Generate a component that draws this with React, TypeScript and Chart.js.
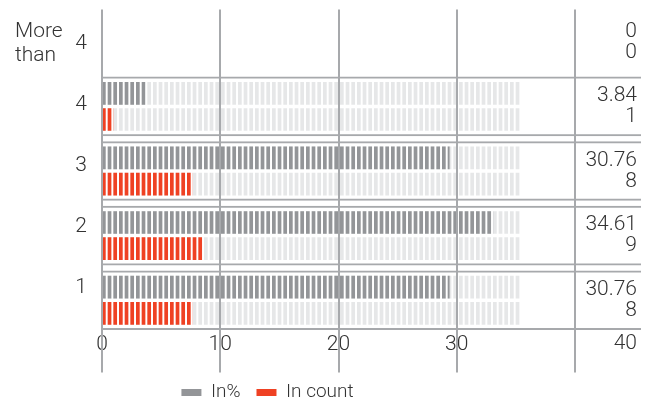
import React, { useEffect, useRef } from 'react';
import { Chart, registerables } from 'chart.js';

Chart.register(...registerables);

// ---- data ----
const CATEGORIES = ['More than 4', '4', '3', '2', '1'];
const PERCENT = [0, 3.84, 30.76, 34.61, 30.76];
const COUNT = [0, 1, 8, 9, 8];
const TRACK = [null, 37, 37, 37, 37];
const SERIES = ['In%', 'In count'];
const X_TICKS = [0, 10, 20, 30, 40];

// ---- styling ----
const GRAY = '#939598';
const RED = '#ef4123';
const TRACK_COLOR = '#e6e7e8';
const LINE = '#a7a9ac';
const TEXT = '#333333';
const FONT = 'Roboto, "Noto Sans", sans-serif';
const BAR_MAX = 47.7; // bar scale extent
const GRID_MAX = 45.58; // grid scale extent
const LABEL_MIN = -0.554; // label scale extent
const LABEL_MAX = 4.736;
const BAND = [null, BAR_MAX, BAR_MAX, BAR_MAX, BAR_MAX];

function makeStripe(color: string): CanvasPattern | string {
  const c = document.createElement('canvas');
  c.width = 17;
  c.height = 4;
  const g = c.getContext('2d');
  if (!g) return color;
  g.fillStyle = '#ffffff';
  g.fillRect(0, 0, 17, 4);
  g.fillStyle = color;
  for (let k = 0; k < 3; k++) g.fillRect((k * 17) / 3, 0, 3.7, 4);
  return g.createPattern(c, 'repeat') || color;
}

export default function App() {
  const ref = useRef<HTMLCanvasElement | null>(null);

  useEffect(() => {
    if (!ref.current) return;
    const patterns = [makeStripe(GRAY), makeStripe(RED), makeStripe(TRACK_COLOR)];

    const overlay = {
      id: 'overlay',
      afterLayout(chart: any) {
        const lg = chart.legend;
        if (lg) {
          lg.left -= 53;
          lg.right -= 53;
        }
      },
      beforeDatasetsDraw(chart: any) {
        const m = new DOMMatrix([1, 0, 0, 1, chart.chartArea.left, 0]);
        patterns.forEach((p: any) => {
          if (p && typeof p.setTransform === 'function') p.setTransform(m);
        });
      },
      afterDraw(chart: any) {
        const ctx = chart.ctx as CanvasRenderingContext2D;
        const ys = chart.scales.y;
        const yl = chart.scales.yl;
        const area = chart.chartArea;
        ctx.save();
        ctx.font = `300 21px ${FONT}`;
        ctx.fillStyle = TEXT;
        ctx.textAlign = 'right';
        ctx.textBaseline = 'middle';
        CATEGORIES.forEach((_, i) => {
          const yc = ys.getPixelForValue(i);
          ctx.fillText(String(PERCENT[i]), area.right - 4, yc - 10.5);
          ctx.fillText(String(COUNT[i]), area.right - 4, yc + 10.5);
        });
        // last x tick label sits at the right edge
        ctx.fillText(String(X_TICKS[X_TICKS.length - 1]), area.right - 4, area.bottom + 11);
        // multi-word category labels: leading words stacked to the left
        ctx.textAlign = 'left';
        CATEGORIES.forEach((c, i) => {
          const words = c.split(' ');
          if (words.length < 2) return;
          const lead = words.slice(0, -1);
          const yc = yl.getPixelForValue(i);
          const lh = 24;
          lead.forEach((w, k) => {
            ctx.fillText(w, yl.left + 15, yc + (k - (lead.length - 1) / 2) * lh);
          });
        });
        ctx.restore();
      },
    };

    const tickFont = { family: FONT, size: 21, weight: '300' as any };
    const barCommon = {
      xAxisID: 'x',
      yAxisID: 'y',
      barPercentage: 0.865,
      categoryPercentage: 0.8125,
      borderWidth: 0,
    };

    const chart = new Chart(ref.current, {
      type: 'bar',
      data: {
        labels: CATEGORIES,
        datasets: [
          { ...barCommon, label: SERIES[0], data: PERCENT, backgroundColor: patterns[0] as any, stack: 'a', order: 1 },
          { ...barCommon, label: SERIES[1], data: COUNT, backgroundColor: patterns[1] as any, stack: 'b', order: 1 },
          { ...barCommon, label: 'track-a', data: TRACK, backgroundColor: patterns[2] as any, stack: 'a', order: 2 },
          { ...barCommon, label: 'track-b', data: TRACK, backgroundColor: patterns[2] as any, stack: 'b', order: 2 },
          {
            label: 'band',
            data: BAND,
            backgroundColor: 'rgba(0,0,0,0)',
            borderColor: LINE,
            borderWidth: { top: 2, bottom: 2, left: 0, right: 0 } as any,
            borderSkipped: false as any,
            xAxisID: 'x',
            yAxisID: 'y',
            grouped: false,
            order: 3,
            barPercentage: 0.922,
            categoryPercentage: 1,
          } as any,
        ],
      },
      options: {
        indexAxis: 'y',
        animation: false,
        responsive: true,
        maintainAspectRatio: false,
        layout: { padding: { top: 9.5, right: 9, bottom: -9, left: 0 } },
        scales: {
          x: { type: 'linear', min: 0, max: BAR_MAX, display: false, stacked: false },
          x2: {
            type: 'linear',
            position: 'bottom',
            min: 0,
            max: GRID_MAX,
            afterBuildTicks: (ax: any) => {
              ax.ticks = X_TICKS.map((v) => ({ value: v }));
            },
            afterFit: (ax: any) => {
              ax.height = 34.5;
              ax.paddingLeft = 0;
              ax.paddingRight = 0;
            },
            grid: { color: LINE, lineWidth: 2, tickLength: 40, z: 1, drawTicks: true },
            border: { display: false },
            ticks: {
              padding: -40,
              color: TEXT,
              font: tickFont,
              maxRotation: 0,
              autoSkip: false,
              callback: (v: any) => (v === X_TICKS[X_TICKS.length - 1] ? '' : String(v)),
            },
          },
          y: { type: 'category', labels: CATEGORIES, display: false, offset: true },
          yl: {
            type: 'linear',
            position: 'left',
            reverse: true,
            offset: false,
            min: LABEL_MIN,
            max: LABEL_MAX,
            afterBuildTicks: (ax: any) => {
              ax.ticks = CATEGORIES.map((_, i) => ({ value: i }));
              ax.min = LABEL_MIN;
              ax.max = LABEL_MAX;
            },
            afterFit: (ax: any) => {
              ax.width = 102;
              ax.paddingTop = 0;
              ax.paddingBottom = 0;
            },
            grid: { display: false, drawTicks: false, offset: false },
            border: { display: false },
            ticks: {
              padding: 15,
              color: TEXT,
              font: tickFont,
              callback: (v: any) => {
                const c = CATEGORIES[v];
                if (c === undefined) return '';
                const w = c.split(' ');
                return w[w.length - 1];
              },
            },
          },
        } as any,
        plugins: {
          tooltip: { enabled: false },
          legend: {
            position: 'bottom',
            labels: {
              boxWidth: 20,
              boxHeight: 7,
              padding: 16,
              color: TEXT,
              font: { family: FONT, size: 19, weight: '300' as any },
              generateLabels: () =>
                SERIES.map((name, i) => ({
                  text: name,
                  fillStyle: i === 0 ? GRAY : RED,
                  strokeStyle: i === 0 ? GRAY : RED,
                  lineWidth: 0,
                  hidden: false,
                  datasetIndex: i,
                  fontColor: TEXT,
                })) as any,
            },
          },
        },
      },
      plugins: [overlay as any],
    });

    return () => chart.destroy();
  }, []);

  return (
    <div style={{ position: 'fixed', left: 0, top: 0, width: 650, height: 403 }}>
      <canvas ref={ref} />
    </div>
  );
}
